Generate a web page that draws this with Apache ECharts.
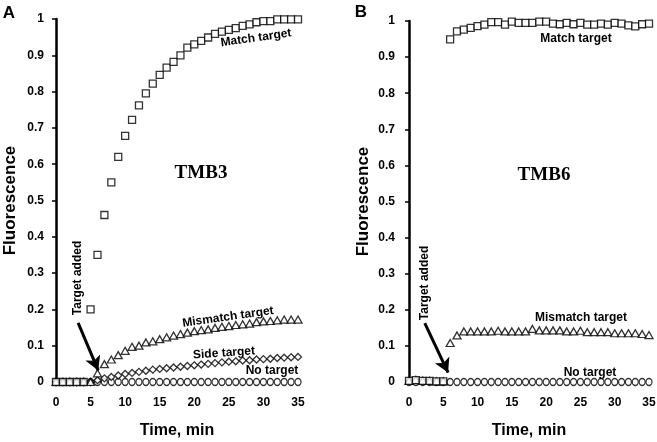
<!DOCTYPE html>
<html>
<head>
<meta charset="utf-8">
<script src="https://cdn.jsdelivr.net/npm/echarts@6/dist/echarts.min.js"></script>
<style>
html,body{margin:0;padding:0;background:#fff;}
#chart{width:657px;height:442px;}
</style>
</head>
<body>
<div id="chart"></div>
<script>
// Time points (min)
var timePoints = [0,1,2,3,4,5,6,7,8,9,10,11,12,13,14,15,16,17,18,19,20,21,22,23,24,25,26,27,28,29,30,31,32,33,34,35];
var xTicks = [0,5,10,15,20,25,30,35];
var yTicks = [0,0.1,0.2,0.3,0.4,0.5,0.6,0.7,0.8,0.9,1];

// Panel A (TMB3)
var matchA    = [0,0,0,0,0,0.2,0.35,0.46,0.55,0.62,0.678,0.722,0.762,0.795,0.822,0.846,0.866,0.882,0.9,0.921,0.93,0.94,0.949,0.959,0.965,0.97,0.975,0.981,0.985,0.991,0.994,0.994,0.999,0.999,0.999,0.999];
var mismatchA = [0,0,0,0,0,0,0.024,0.049,0.062,0.074,0.086,0.097,0.1,0.109,0.112,0.118,0.123,0.128,0.132,0.136,0.14,0.143,0.145,0.149,0.152,0.154,0.157,0.159,0.161,0.165,0.167,0.168,0.17,0.172,0.172,0.172];
var sideA     = [0,0,0,0,0,0,0.005,0.01,0.014,0.018,0.022,0.025,0.028,0.031,0.034,0.036,0.038,0.04,0.042,0.044,0.046,0.048,0.05,0.052,0.054,0.056,0.057,0.059,0.06,0.062,0.063,0.064,0.066,0.067,0.068,0.069];
var noA       = [0,0,0,0,0,0,0,0,0,0,0,0,0,0,0,0,0,0,0,0,0,0,0,0,0,0,0,0,0,0,0,0,0,0,0,0];

// Panel B (TMB6)
var matchB    = [0.003,0.005,0.003,0.003,0.002,0.002,0.949,0.971,0.976,0.981,0.986,0.99,0.997,0.997,0.99,0.998,0.995,0.995,0.995,0.998,0.998,0.993,0.991,0.995,0.991,0.995,0.99,0.99,0.993,0.99,0.995,0.993,0.988,0.985,0.991,0.993];
var mismatchB = [0.003,0.006,0.004,0.003,0.002,0.002,0.108,0.129,0.14,0.14,0.14,0.14,0.14,0.142,0.14,0.14,0.14,0.14,0.147,0.143,0.143,0.143,0.143,0.14,0.14,0.142,0.138,0.138,0.138,0.138,0.135,0.135,0.135,0.135,0.133,0.13];
var noB       = [0,0,0,0,0,0,0,0,0,0,0,0,0,0,0,0,0,0,0,0,0,0,0,0,0,0,0,0,0,0,0,0,0,0,0,0];

// Arrow endpoints in data coordinates ([time, fluorescence])
var arrowA = [[3.2,0.163],[6.1,0.032]];
var arrowB = [[2.3,0.163],[5.7,0.026]];

function pairs(ys){ return timePoints.map(function(t,i){ return [t, ys[i]]; }); }

var SANS = '"Liberation Sans", Arial, sans-serif';
var SERIF = '"Liberation Serif", "Times New Roman", serif';

function xAxisDef(idx){
  return {
    gridIndex: idx, type:'value', min:0, max:35, interval:5,
    name:'Time, min', nameLocation:'middle', nameGap:41,
    nameTextStyle:{fontFamily:SANS, fontWeight:'bold', fontSize:16, color:'#000'},
    axisLine:{show:false}, axisTick:{show:false}, splitLine:{show:false},
    axisLabel:{margin:15, fontFamily:SANS, fontWeight:'bold', fontSize:12, color:'#000'}
  };
}
function yAxisDef(idx, gap, margin){
  return {
    gridIndex: idx, type:'value', min:0, max:1, interval:0.1,
    name:'Fluorescence', nameLocation:'middle', nameGap:gap,
    nameTextStyle:{fontFamily:SANS, fontWeight:'bold', fontSize:17, color:'#000'},
    axisLine:{show:true, lineStyle:{color:'#000', width:2.5}},
    axisTick:{show:true, length:4, lineStyle:{color:'#000', width:1.5}},
    splitLine:{show:false},
    axisLabel:{margin:margin, fontFamily:SANS, fontWeight:'bold', fontSize:12, color:'#000',
      formatter:function(v){ return String(Math.round(v*10)/10); }}
  };
}
function sc(name, idx, data, symbol, size, z){
  return {
    name:name, type:'scatter', xAxisIndex:idx, yAxisIndex:idx,
    data:pairs(data), symbol:symbol, symbolSize:size, z:z||2,
    itemStyle:{color:'#fff', borderColor:'#000', borderWidth:1.3},
    emphasis:{disabled:true}, silent:true
  };
}
function arrowSeries(idx, pts){
  return {
    type:'line', xAxisIndex:idx, yAxisIndex:idx, data:[], silent:true,
    markLine:{
      silent:true, symbol:['none','arrow'], symbolSize:[12,14],
      label:{show:false},
      lineStyle:{color:'#000', width:3, type:'solid'},
      data:[[{coord:pts[0]},{coord:pts[1]}]]
    }
  };
}
function txt(x,y,text,opts){
  opts = opts||{};
  return {
    type:'text', x:x, y:y, rotation:opts.rot||0, z:100,
    style:{text:text, fill:'#000', font:opts.font||('bold 12px '+SANS), align:'center', verticalAlign:'middle'}
  };
}

var deg = Math.PI/180;
var option = {
  animation:false,
  backgroundColor:'#fff',
  grid:[
    {left:56, top:19, width:242, height:363, containLabel:false, outerBoundsMode:'none'},
    {left:409, top:21, width:240, height:361, containLabel:false, outerBoundsMode:'none'}
  ],
  xAxis:[xAxisDef(0), xAxisDef(1)],
  yAxis:[yAxisDef(0, 37, 12), yAxisDef(1, 37, 14)],
  series:[
    sc('No target', 0, noA, 'circle', [6,7], 2),
    sc('Side target', 0, sideA, 'diamond', [7,7], 3),
    sc('Mismatch target', 0, mismatchA, 'triangle', [8,7], 4),
    sc('Match target', 0, matchA, 'rect', [7,7], 5),
    arrowSeries(0, arrowA),
    sc('No target', 1, noB, 'circle', [6,7], 2),
    sc('Mismatch target', 1, mismatchB, 'triangle', [8,7], 4),
    sc('Match target', 1, matchB, 'rect', [7,7], 5),
    arrowSeries(1, arrowB)
  ],
  graphic:[
    txt(9,13,'A',{font:'bold 17px '+SANS}),
    txt(361,12,'B',{font:'bold 17px '+SANS}),
    txt(201,173,'TMB3',{font:'bold 19px '+SERIF}),
    txt(544,175,'TMB6',{font:'bold 19px '+SERIF}),
    txt(256,38,'Match target',{rot:8*deg}),
    txt(228,317,'Mismatch target',{rot:8*deg}),
    txt(224,353,'Side target',{rot:4*deg}),
    txt(272,371,'No target'),
    txt(78,278,'Target added',{rot:90*deg}),
    txt(576,39,'Match target'),
    txt(581,318,'Mismatch target'),
    txt(590,373,'No target'),
    txt(425,283,'Target added',{rot:90*deg})
  ]
};
var chart = echarts.init(document.getElementById('chart'), null, {renderer:'canvas'});
chart.setOption(option);
</script>
</body>
</html>
